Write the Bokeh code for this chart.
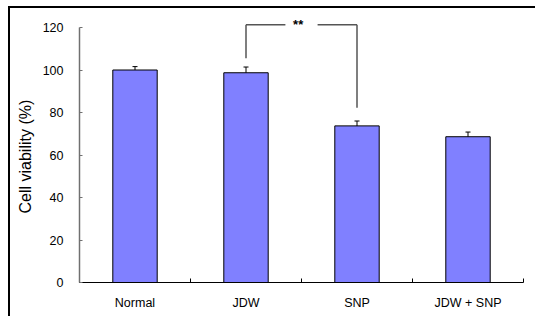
from bokeh.plotting import figure
from bokeh.models import Range1d, FixedTicker, Whisker, ColumnDataSource, Label, TeeHead, Title
from bokeh.embed import file_html
from bokeh.resources import INLINE

categories = ["Normal", "JDW", "SNP", "JDW + SNP"]
viability = [100.0, 98.7, 73.7, 68.6]
errors = [1.6, 2.7, 2.3, 2.2]
y_ticks = [0, 20, 40, 60, 80, 100, 120]
y_title = "Cell viability (%)"
sig_label = "**"

FONT = "Liberation Sans"
n = len(categories)
centers = [i + 0.5 for i in range(n)]

p = figure(width=527, height=310, output_backend="svg", toolbar_location=None,
           x_range=Range1d(0, n), y_range=Range1d(0, 270 / 2.125),
           min_border_left=69, min_border_right=14, min_border_top=4, min_border_bottom=36,
           styles={"margin-left": "8px", "margin-top": "6px",
                   "border-left": "2px solid black", "border-top": "2px solid black"})
p.background_fill_color = "white"
p.border_fill_color = "white"
p.outline_line_color = None
p.xgrid.visible = False
p.ygrid.visible = False

src = ColumnDataSource(dict(x=centers, top=viability,
                            upper=[v + e for v, e in zip(viability, errors)],
                            lower=[v - e for v, e in zip(viability, errors)]))
p.vbar(x="x", top="top", width=0.4, bottom=0, source=src,
       fill_color="#8080FF", line_color="black", line_width=1)
p.add_layout(Whisker(source=src, base="x", upper="upper", lower="lower",
                     line_color="black", line_width=1,
                     upper_head=TeeHead(size=5, line_color="black", line_width=1),
                     lower_head=TeeHead(size=5, line_color="black", line_width=1)))

# significance bracket between JDW and SNP
i1, i2 = categories.index("JDW"), categories.index("SNP")
x1, x2 = centers[i1], centers[i2]
yb = 121.3
mid = (x1 + x2) / 2
gap = 0.145
bracket = ColumnDataSource(dict(
    x0=[x1, x1, mid + gap, x2],
    y0=[105.5, yb, yb, yb],
    x1=[x1, mid - gap, x2, x2],
    y1=[yb, yb, yb, 82.2]))
p.segment(x0="x0", y0="y0", x1="x1", y1="y1", source=bracket,
          line_color="#555555", line_width=1.5)
p.add_layout(Label(x=mid - 0.03, y=yb, text=sig_label, text_align="center",
                   text_baseline="middle", text_font_size="13px",
                   text_font_style="bold", text_color="black"))

# axes
xa = p.xaxis[0]
xa.ticker = FixedTicker(ticks=centers, minor_ticks=list(range(n + 1)))
xa.major_label_overrides = {c: lab for c, lab in zip(centers, categories)}
xa.major_tick_in = 0
xa.major_tick_out = 0
xa.minor_tick_in = 4
xa.minor_tick_out = 0
xa.minor_tick_line_color = "black"
xa.axis_line_color = "black"
xa.axis_line_width = 1
xa.major_label_text_font = FONT
xa.major_label_text_font_size = "12.5px"
xa.major_label_text_color = "black"
xa.major_label_standoff = 13

ya = p.yaxis[0]
ya.ticker = FixedTicker(ticks=y_ticks)
ya.bounds = (0, 120)
ya.major_tick_in = 3
ya.major_tick_out = 0
ya.minor_tick_in = 0
ya.minor_tick_out = 0
ya.axis_line_color = "#707070"
ya.major_tick_line_color = "#707070"
ya.axis_line_width = 1.5
ya.major_label_text_font = FONT
ya.major_label_text_font_size = "12.5px"
ya.major_label_text_color = "black"
ya.major_label_standoff = 16

# y-axis title as a side title left of the axis
p.add_layout(Title(text=y_title, align="left", vertical_align="top", offset=69, standoff=8,
                   text_font=FONT, text_font_size="16px",
                   text_font_style="normal", text_color="black"), "left")

open("out.html", "w").write(file_html(p, INLINE))
